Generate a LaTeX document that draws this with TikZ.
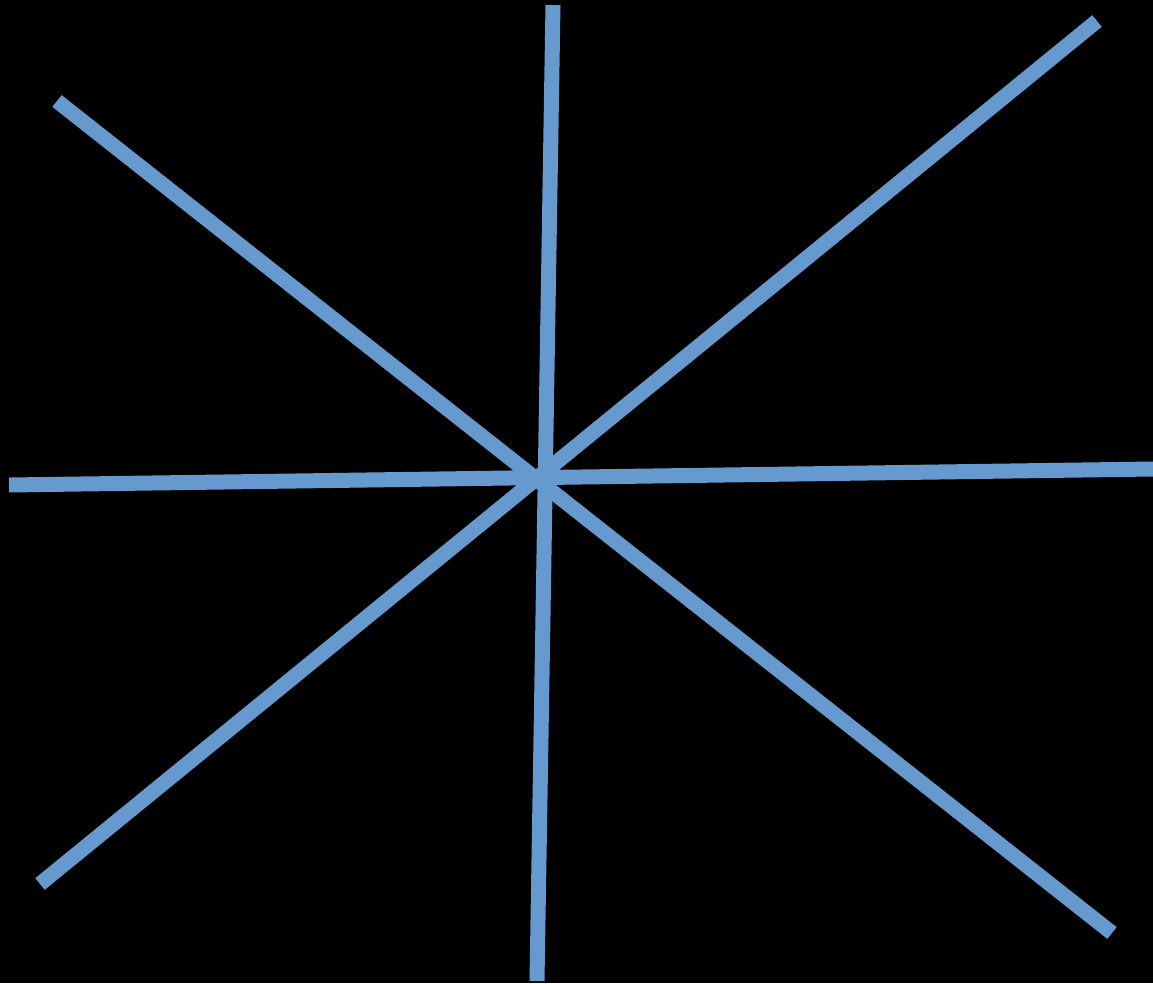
\documentclass[tikz,border=0pt]{standalone}
\definecolor{barblue}{RGB}{102,153,206}
\begin{document}
\begin{tikzpicture}[x=1pt,y=-1pt,bar/.style={draw=barblue,line width=15pt,line cap=butt}]
\fill[black] (0,0) rectangle (1153,983);
\useasboundingbox (0,0) rectangle (1153,983);
\coordinate (nw) at (57,101);
\coordinate (se) at (1112,933);
\coordinate (ne) at (1097,21);
\coordinate (sw) at (40,884);
\coordinate (n) at (553,5);
\coordinate (s) at (537,981);
\coordinate (w) at (9,485);
\coordinate (e) at (1153,469);
\draw[bar] (nw) -- (se);
\draw[bar] (ne) -- (sw);
\draw[bar] (n) -- (s);
\draw[bar] (w) -- (e);
\end{tikzpicture}
\end{document}
